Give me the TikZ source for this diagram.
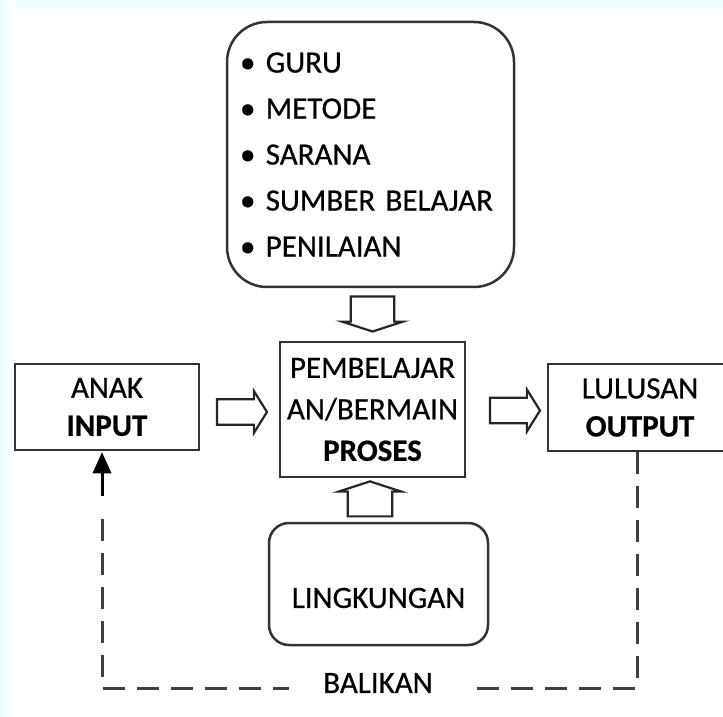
\documentclass[tikz,border=0pt]{standalone}
\usepackage{fontspec}
\setmainfont{Carlito}[FakeBold=0.6]
\usetikzlibrary{arrows.meta,shapes.arrows}

\begin{document}
\begin{tikzpicture}[x=1pt,y=1pt,font=\fontsize{31}{38}\selectfont]
   \tikzstyle{box}=[draw=black!80,line width=2.5pt,inner sep=0pt,align=center]
   \tikzstyle{softbox}=[box,rounded corners=20pt]
   \tikzstyle{hollow}=[single arrow,draw=black!85,line width=2.2pt,fill=white,inner xsep=0pt,inner ysep=10pt,minimum height=50pt,minimum width=42pt,single arrow tip angle=116]
   \tikzstyle{feedback}=[draw=black!75,line width=3pt,dash pattern=on 22pt off 12pt]

   \useasboundingbox (0,0) rectangle (723,716);
   \shade[top color=cyan!8,bottom color=white] (0,701) rectangle (723,716);
   \shade[left color=cyan!8,right color=white] (0,0) rectangle (15,716);

   \node[softbox,rounded corners=40pt,minimum width=287pt,minimum height=265pt,text width=261pt,align=left,font=\fontsize{31}{46}\selectfont] (faktor) at (370.5,561.5)
      {\textbullet\ GURU\\ \textbullet\ METODE\\ \textbullet\ SARANA\\ \textbullet\ SUMBER BELAJAR\\ \textbullet\ PENILAIAN};
   \node[box,minimum width=185pt,minimum height=135pt,font=\fontsize{31}{41.5}\selectfont] (proses) at (372.5,306.5) {PEMBELAJAR\\AN/BERMAIN\\\textbf{PROSES}};
   \node[box,minimum width=184pt,minimum height=86pt] (input) at (107,309) {ANAK\\\textbf{INPUT}};
   \node[box,minimum width=184pt,minimum height=87pt] (output) at (640,308.5) {LULUSAN\\\textbf{OUTPUT}};
   \node[softbox,minimum width=219pt,minimum height=122pt] (lingkungan) at (378.5,132) {};
   \node (lingkungantext) at ([yshift=-14pt]lingkungan.center) {LINGKUNGAN};

   \node[hollow] (masuk) at (238,304) {};
   \node[hollow] (keluar) at (511,305.5) {};
   \node[hollow,rotate=-90,minimum height=35pt,minimum width=61pt,inner ysep=16.5pt,single arrow tip angle=144] (dukung) at (372.5,405.5) {};
   \node[hollow,rotate=90,minimum height=35pt,minimum width=63pt,inner ysep=16pt,single arrow tip angle=144] (pengaruh) at (370,213.5) {};

   \coordinate (fbR) at (637,28);
   \coordinate (fbL) at (102,28);
   \coordinate (fbTip) at ([xshift=-5pt,yshift=-1pt]input.south);
   \coordinate (fbUp) at ([yshift=-44pt]fbTip);
   \draw[feedback] ([xshift=-3pt]output.south) -- (fbR) -- (fbL) -- ([yshift=-12pt]fbUp);
   \draw[line width=3pt] (fbUp) -- ([yshift=-18pt]fbTip);
   \fill (fbTip) -- ++(-9.5,-21) -- ++(19,0) -- cycle;
   \node[fill=white,inner xsep=34pt] (balikan) at (378,33) {BALIKAN};
\end{tikzpicture}
\end{document}
